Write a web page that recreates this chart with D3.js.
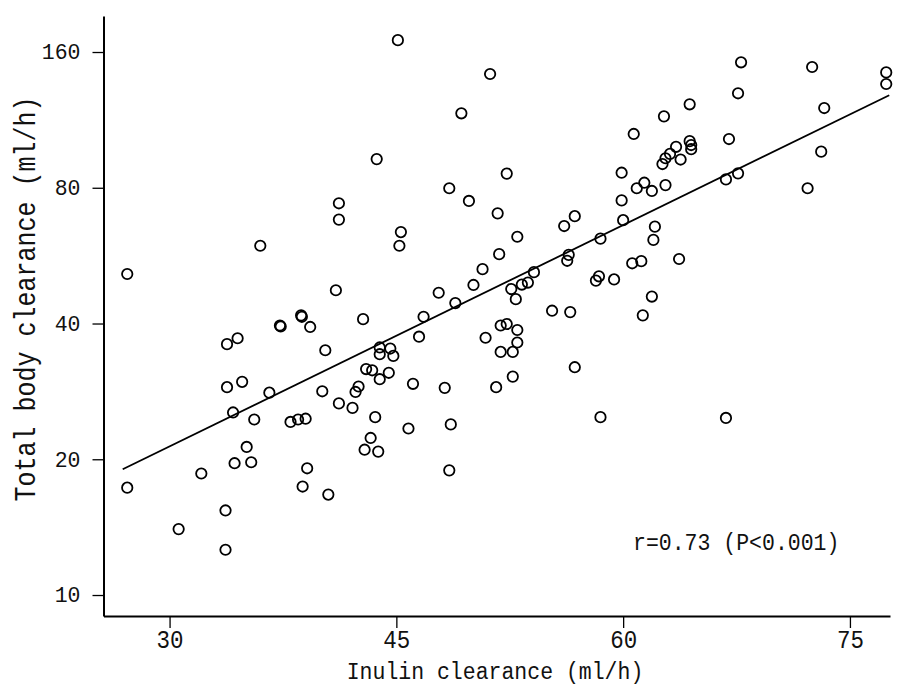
<!DOCTYPE html>
<html>
<head>
<meta charset="utf-8">
<script src="https://cdn.jsdelivr.net/npm/d3@7"></script>
<style>
  html, body { margin: 0; padding: 0; background: #fff; }
  svg { display: block; }
  text { font-family: "Liberation Mono", "DejaVu Sans Mono", monospace; fill: #111; }
</style>
</head>
<body>
<svg id="chart" width="902" height="688"></svg>
<script>
// Inulin clearance (ml/h) for each animal
const inulin = [
  27.2, 27.2, 30.6, 32.1, 33.7, 33.7, 33.8, 33.8, 34.2, 34.3,
  34.5, 34.8, 35.1, 35.4, 35.6, 36.0, 36.6, 37.3, 37.35, 38.0,
  38.5, 38.7, 38.75, 38.8, 39.0, 39.1, 39.3, 40.1, 40.3, 40.5,
  41.0, 41.2, 41.2, 41.2, 42.1, 42.3, 42.5, 42.8, 42.9, 43.0,
  43.3, 43.4, 43.6, 43.7, 43.8, 43.9, 43.9, 43.9, 44.5, 44.6,
  44.8, 45.1, 45.2, 45.3, 45.8, 46.1, 46.5, 46.8, 47.8, 48.2,
  48.5, 48.5, 48.6, 48.9, 49.3, 49.8, 50.1, 50.7, 50.9, 51.2,
  51.6, 51.7, 51.8, 51.9, 51.9, 52.3, 52.3, 52.6, 52.7, 52.7,
  52.9, 53.0, 53.0, 53.0, 53.3, 53.7, 54.1, 55.3, 56.1, 56.3,
  56.4, 56.5, 56.8, 56.8, 58.2, 58.4, 58.5, 58.5, 59.4, 59.9,
  59.9, 60.0, 60.6, 60.7, 60.9, 61.2, 61.3, 61.4, 61.9, 61.9,
  62.0, 62.1, 62.6, 62.7, 62.8, 62.8, 63.1, 63.5, 63.7, 63.8,
  64.4, 64.4, 64.5, 64.5, 66.8, 66.8, 67.0, 67.6, 67.6, 67.8,
  72.2, 72.5, 73.1, 73.3, 77.4, 77.4
];

// Total body clearance (ml/h), same order as inulin
const totalBody = [
  51.5, 17.3, 14.0, 18.6, 15.4, 12.6, 36.0, 28.9, 25.4, 19.6,
  37.1, 29.7, 21.3, 19.7, 24.5, 59.5, 28.1, 39.6, 39.4, 24.2,
  24.5, 41.7, 41.4, 17.4, 24.6, 19.1, 39.3, 28.3, 34.9, 16.7,
  47.4, 73.9, 68.0, 26.6, 26.0, 28.2, 29.0, 40.9, 21.0, 31.7,
  22.3, 31.5, 24.8, 92.6, 20.8, 35.4, 34.2, 30.1, 31.1, 35.2,
  33.9, 170.0, 59.5, 63.8, 23.4, 29.4, 37.4, 41.4, 46.8, 28.8,
  18.9, 79.8, 23.9, 44.4, 117.0, 74.8, 48.7, 52.8, 37.2, 143.0,
  28.9, 70.2, 57.0, 39.6, 34.6, 39.9, 86.0, 47.7, 34.6, 30.5,
  45.3, 62.3, 38.7, 36.3, 48.8, 49.3, 52.0, 42.7, 65.8, 55.1,
  56.8, 42.4, 32.0, 69.2, 49.8, 50.9, 61.7, 24.8, 50.1, 75.0,
  86.4, 67.8, 54.4, 105.3, 79.8, 55.0, 41.7, 82.1, 78.7, 45.9,
  61.3, 65.6, 90.3, 115.2, 93.0, 81.1, 95.1, 98.6, 55.6, 92.4,
  122.5, 101.5, 99.5, 97.4, 24.7, 83.5, 102.6, 129.6, 86.1, 151.8,
  79.8, 148.2, 96.2, 120.2, 144.2, 135.9
];

// Regression line end points (log-linear fit)
const fitInulin = [26.9, 77.6];
const fitTotal = [19.0, 128.3];

const xTicks = [30, 45, 60, 75];
const yTicks = [10, 20, 40, 80, 160];

const xTitle = "Inulin clearance (ml/h)";
const yTitle = "Total body clearance (ml/h)";
const statText = "r=0.73 (P<0.001)";

const svg = d3.select("#chart");

const x = d3.scaleLinear().domain([25.63, 77.65]).range([103.5, 890]);
const y = d3.scaleLog().domain([8.984, 192.3]).range([616, 16]);

// axes
const xAxis = svg.append("g")
  .attr("transform", "translate(0,616)")
  .call(d3.axisBottom(x).tickValues(xTicks).tickSize(12).tickSizeOuter(0).tickPadding(0));
xAxis.select(".domain").attr("stroke", "#000").attr("stroke-width", 2);
xAxis.selectAll(".tick line").attr("stroke", "#000").attr("stroke-width", 1.3);
xAxis.selectAll(".tick text")
  .attr("y", null).attr("dy", null)
  .attr("transform", "translate(0,32) scale(1,1.15)")
  .style("font-size", "22.5px")
  .attr("fill", "#111");

const yAxis = svg.append("g")
  .attr("transform", "translate(103.5,0)")
  .call(d3.axisLeft(y).tickValues(yTicks).tickFormat(d3.format("d")).tickSize(11).tickSizeOuter(0).tickPadding(12));
yAxis.select(".domain").attr("stroke", "#000").attr("stroke-width", 2);
yAxis.selectAll(".tick line").attr("stroke", "#000").attr("stroke-width", 1.3);
yAxis.selectAll(".tick text")
  .style("font-size", "21.5px")
  .attr("fill", "#111");

// axis titles
svg.append("text")
  .attr("transform", "translate(495,679) scale(1,1.15)")
  .attr("text-anchor", "middle")
  .style("font-size", "21.5px")
  .text(xTitle);

svg.append("text")
  .attr("transform", "translate(35,299) rotate(-90) scale(1,1.15)")
  .attr("text-anchor", "middle")
  .style("font-size", "25px")
  .text(yTitle);

// regression line
const line = d3.line().x(d => x(d[0])).y(d => y(d[1]));
svg.append("path")
  .datum(d3.zip(fitInulin, fitTotal))
  .attr("d", line)
  .attr("fill", "none")
  .attr("stroke", "#000")
  .attr("stroke-width", 1.8);

// data points
svg.append("g")
  .selectAll("circle")
  .data(d3.zip(inulin, totalBody))
  .join("circle")
  .attr("cx", d => x(d[0]))
  .attr("cy", d => y(d[1]))
  .attr("r", 5.2)
  .attr("fill", "none")
  .attr("stroke", "#000")
  .attr("stroke-width", 1.8);

// correlation annotation
svg.append("text")
  .attr("transform", "translate(633,550) scale(1,1.1)")
  .style("font-size", "21.5px")
  .text(statText);
</script>
</body>
</html>
